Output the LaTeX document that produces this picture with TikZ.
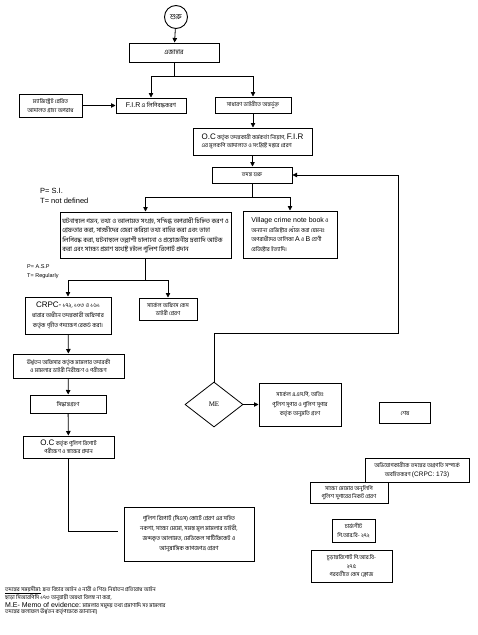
\documentclass[tikz,border=0pt]{standalone}
\usepackage{fontspec}
\setmainfont{Liberation Sans}
\newfontfamily\bn[Script=Bengali]{Hind Siliguri}
\newfontfamily\tms{Liberation Serif}
\newcommand\en[1]{{\rmfamily #1}}
\usetikzlibrary{arrows.meta,shapes.geometric}
\begin{document}
\begin{tikzpicture}[x=1pt,y=-1pt,
  box/.style={draw, line width=1pt, inner sep=1pt, align=center,
    font=\bn\fontsize{5.6}{8.5}\selectfont},
  lbox/.style={box, align=left},
  arr/.style={-{Triangle[length=4.5pt,width=4.5pt]}, line width=0.8pt},
  ln/.style={line width=0.8pt},
  note/.style={anchor=west, inner sep=0pt, font=\fontsize{7.5}{9}\selectfont}]
\useasboundingbox (0,0) rectangle (477,635);

\node[draw, circle, line width=0.9pt, minimum size=23pt, inner sep=0pt, font=\bn\fontsize{7.5}{8}\selectfont] (start) at (176,17) {শুরু};
\node[box, minimum width=90pt, minimum height=19pt, font=\bn\fontsize{6.5}{8}\selectfont] (ejahar) at (174,52.5) {এজাহার};
\node[box, minimum width=63pt, minimum height=23pt] (mag) at (50.5,105.5) {ম্যাজিস্ট্রেট প্রেরিত\\আদালত গ্রাহ্য অপরাধ};
\node[box, minimum width=70pt, minimum height=15pt, font=\bn\fontsize{6}{8}\selectfont] (fir) at (151,105.5) {\en{\fontsize{7}{8}\selectfont F.I.R} এ লিপিবদ্ধকরণ};
\node[box, minimum width=76pt, minimum height=16pt] (sadharan) at (253,105) {সাধারণ ডাইরীতে অন্তর্ভুক্ত};
\node[lbox, minimum width=119pt, minimum height=27pt] (oc1) at (252.5,141.5) {\en{\fontsize{8}{9}\selectfont O.C} কর্তৃক তদন্তকারী কর্মকর্তা নিয়োগ, \en{\fontsize{8}{9}\selectfont F.I.R}\\এর মূলকপি আদালতে ও সংশ্লিষ্ট দপ্তরে প্রেরণ};
\node[box, minimum width=80pt, minimum height=16pt] (tadanta) at (252,175) {তদন্ত শুরু};

\node[note] (psi) at (40,191) {P= S.I.};
\node[note] (tnd) at (40,201) {T= not defined};

\node[lbox, minimum width=171pt, minimum height=46pt, font=\bn\fontsize{6.4}{9.5}\selectfont] (big) at (145.5,235) {ঘটনাস্থলে গমন, তথ্য ও আলামত সংগ্রহ, সন্দিগ্ধ অপরাধী চিহ্নিত করণ ও\\গ্রেফতার করা, সাক্ষীদের জেরা করিয়া তথ্য বাহির করা এবং তাহা\\লিপিবদ্ধ করা, ঘটনাস্থলে তল্লাশী চালানো ও প্রয়োজনীয় দ্রব্যাদি আটক\\করা এবং সাক্ষ্য প্রমাণ যথেষ্ট হইলে পুলিশ রিপোর্ট প্রদান};
\node[lbox, minimum width=94pt, minimum height=47pt, font=\bn\fontsize{5.6}{9.5}\selectfont] (village) at (290,234.5) {\en{\fontsize{7}{8.5}\selectfont Village crime note book} ও\\অন্যান্য রেজিষ্টার খোঁজ করা যেমনঃ\\অপরাধীদের তালিকা \en{\fontsize{7}{8.5}\selectfont A} ও \en{\fontsize{7}{8.5}\selectfont B} শ্রেণী\\রেজিষ্টার ইত্যাদি।};

\node[note, font=\fontsize{5.5}{7}\selectfont] (pasp) at (27,267) {P= A.S.P};
\node[note, font=\fontsize{5.5}{7}\selectfont] (treg) at (27,276) {T= Regularly};

\node[box, minimum width=86pt, minimum height=37pt, font=\bn\fontsize{5.8}{10}\selectfont] (crpc) at (68,315.5) {\en{\fontsize{8}{9}\selectfont CRPC-} ১৭২, ১০৩ ও ১৬১\\ধারার অধীনে তদন্তকারী অফিসার\\কর্তৃক গৃহীত পদক্ষেপ রেকর্ড করা।};
\node[box, minimum width=58pt, minimum height=22pt] (sarkel1) at (168,309) {সার্কেল অফিসে কেস\\ডাইরী প্রেরণ};
\node[box, minimum width=111pt, minimum height=24pt] (urdhva) at (68.5,366) {ঊর্ধ্বতন অফিসার কর্তৃক মামলার তদারকী\\ও মামলার ডাইরী নিরীক্ষণ ও পরীক্ষণ};
\node[box, minimum width=76pt, minimum height=18pt] (siddhanta) at (68,404) {সিদ্ধান্তগ্রহণ};
\node[box, minimum width=91pt, minimum height=22pt] (oc2) at (68.5,447) {\en{\fontsize{8}{9}\selectfont O.C} কর্তৃক পুলিশ রিপোর্ট\\পরীক্ষণ ও স্বাক্ষর প্রদান};

\node[draw, diamond, line width=0.8pt, minimum width=58pt, minimum height=45pt, inner sep=0pt, font=\tms\fontsize{7}{8}\selectfont] (me) at (214,404.5) {ME};
\node[box, minimum width=82pt, minimum height=43pt, font=\bn\fontsize{5.6}{9.5}\selectfont] (sarkel2) at (300,404.5) {সার্কেল এ.এস.পি, অতিঃ\\পুলিশ সুপার ও পুলিশ সুপার\\কর্তৃক অনুমতি গ্রহণ};
\node[box, minimum width=51pt, minimum height=21pt] (shesh) at (405,413) {শেষ};
\node[box, minimum width=104pt, minimum height=24pt] (abhijog) at (417,470) {অভিযোগকারীকে তদন্তের অগ্রগতি সম্পর্কে\\অবহিতকরণ \en{\fontsize{6.5}{8}\selectfont (CRPC: 173)}};
\node[box, minimum width=78pt, minimum height=21pt] (sakkhya) at (349,492.5) {সাক্ষ্য মেমোর অনুলিপি\\পুলিশ সুপারের নিকট প্রেরণ};
\node[box, minimum width=43pt, minimum height=23pt] (charge) at (353.5,530.5) {চার্জশীট\\পি.আর.বি- ২৭২};
\node[box, minimum width=81pt, minimum height=32pt] (final) at (351.5,566) {চূড়ান্তরিপোর্ট পি.আর.বি-\\২৭৫\\পরবর্তীতে কেস ক্লোজ};
\node[box, minimum width=130pt, minimum height=54pt, font=\bn\fontsize{5.8}{10}\selectfont] (police) at (189,534) {পুলিশ রিপোর্ট (সিএস) কোর্টে প্রেরণ এর সহিত\\নকশা, সাক্ষ্য মেমো, সমস্ত মূল মামলার ডাইরী,\\জব্দকৃত আলামত, মেডিকেল সার্টিফিকেট ও\\আনুষাঙ্গিক কাগজপত্র প্রেরণ};

\node[anchor=north west, inner sep=0pt, align=left, font=\bn\fontsize{5.5}{6.2}\selectfont] (foot) at (5,586) {\underline{তদন্তের সময়সীমা:} দ্রুত বিচার আইন ও নারী ও শিশু নির্যাতন প্রতিরোধ আইন\\ছাড়া সিআরপিসি ১৭৩ অনুযায়ী অযথা বিলম্ব না করা,\\\en{\fontsize{7}{6.2}\selectfont M.E- Memo of evidence:} মামলার সমুদয় তথ্য প্রমাণাদি সহ মামলার\\তদন্তের ফলাফল ঊর্ধ্বতন কর্তৃপক্ষকে জানানো)};

\coordinate (j1) at (174,76);
\coordinate (j2) at (252,197);
\coordinate (j3) at (145.5,280);
\coordinate (k1) at (214,333);
\coordinate (k2) at (398,333);
\coordinate (k3) at (398,175);
\coordinate (pend) at (118,531);

\draw[arr] (start) -- (ejahar);
\draw[ln] (ejahar.south) -- (j1);
\draw[arr] (j1) -| (fir.north);
\draw[arr] (j1) -| (sadharan.north);
\draw[arr] (mag) -- (fir);
\draw[arr] (sadharan.south) -- (sadharan.south |- oc1.north);
\draw[arr] (oc1.south) -- (oc1.south |- tadanta.north);
\draw[ln] (tadanta.south) -- (j2);
\draw[arr] (j2) -| (big.north);
\draw[arr] (j2) -| (village.north);
\draw[ln] (big.south) -- (j3);
\draw[arr] (j3) -| (crpc.north);
\draw[arr] (j3) -| (sarkel1.north);
\draw[arr] (crpc) -- (urdhva);
\draw[arr] (urdhva) -- (siddhanta);
\draw[arr] (siddhanta) -- (oc2);
\draw[ln] (oc2.south) |- (pend);
\draw[arr] (me.north) -- (k1) -- (k2) -- (k3) -- (tadanta.east);
\draw[arr] (me.east) -- (sarkel2.west);
\end{tikzpicture}
\end{document}
